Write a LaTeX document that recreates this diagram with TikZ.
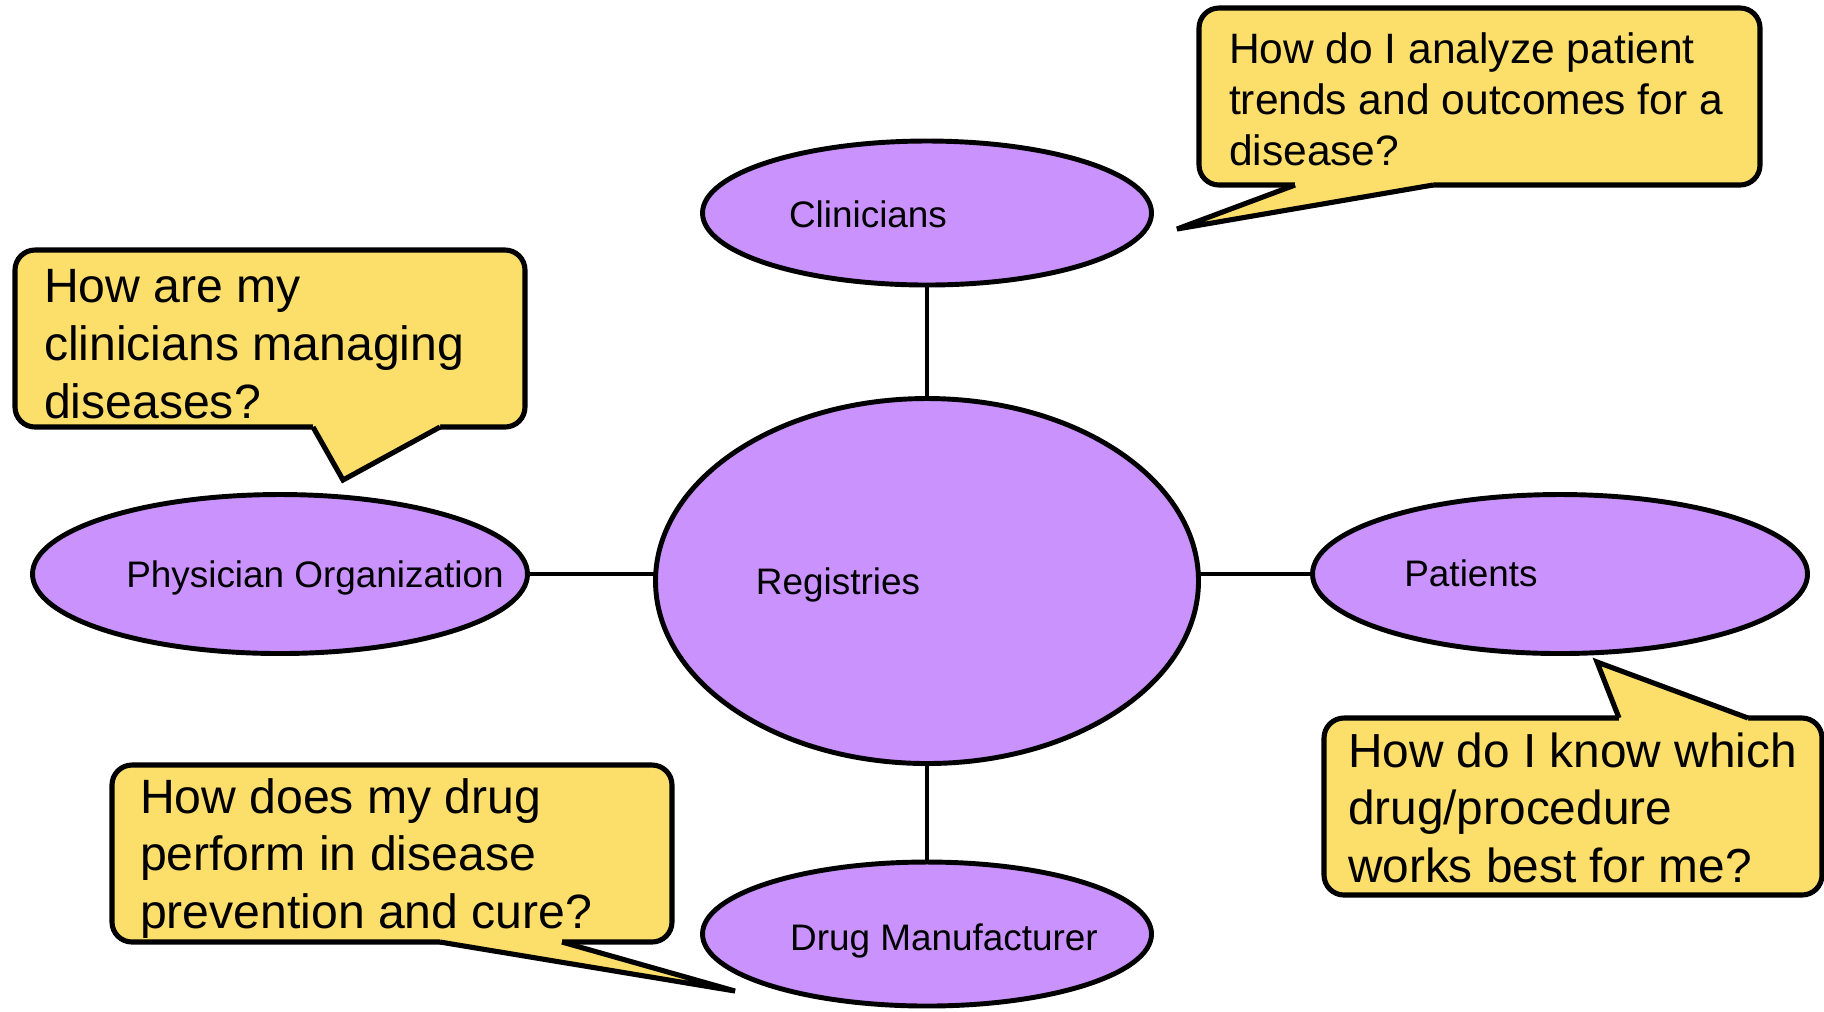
\documentclass[tikz,border=0pt]{standalone}
\usepackage{fontspec}
\setmainfont{Liberation Sans}
\usepackage{tikz}
\usetikzlibrary{shapes.geometric, positioning, calc}
\definecolor{rolepurple}{RGB}{201,146,252}
\definecolor{askyellow}{RGB}{252,222,106}

\tikzset{
  role/.style={ellipse, draw, line width=1.4pt, fill=rolepurple, inner sep=0pt, outer sep=0pt},
  rolename/.style={font=\fontsize{10.5}{12.6}\selectfont, inner sep=0pt, text height=7.6pt, text depth=0pt},
  ask/.style={rectangle, rounded corners=2mm, draw, line width=1.45pt, fill=askyellow,
    align=flush left, inner ysep=0pt, outer sep=0pt, minimum height=17.7mm, anchor=north west,
    font=\fontsize{13.7}{16.4}\selectfont, execute at begin node={\rule{0pt}{#1}}},
  ask/.default=12.7pt,
  tail/.style={line width=1.45pt},
  link/.style={line width=1.2pt}
}

% pointer of a question box: base b1, base b2 (box inside on the left of b1->b2), tip
\newcommand{\asktail}[3]{%
  \fill[askyellow] ($(#1)!0.45mm!90:(#2)$) -- (#1) -- (#3) -- (#2) -- ($(#2)!0.45mm!-90:(#1)$) -- cycle;
  \draw[tail] (#1) -- (#3) -- (#2);}

\begin{document}
\begin{tikzpicture}[x=0.1mm, y=-0.1mm]
\useasboundingbox (0,0) rectangle (1824,1011);

% parties
\node[role, minimum width=54.3mm, minimum height=36.5mm] (reg) at (927,581) {};
\node[role, minimum width=44.9mm, minimum height=14.4mm] (cli) at (927,213) {};
\node[role, minimum width=44.9mm, minimum height=14.4mm] (drug) at (927,934) {};
\node[role, minimum width=49.5mm, minimum height=15.9mm] (po) at (280,574) {};
\node[role, minimum width=49.5mm, minimum height=15.9mm] (pat) at (1560,574) {};

\node[rolename, xshift=-8.9mm] (reg-text) at (reg) {Registries};
\node[rolename, xshift=-5.9mm, yshift=-0.1mm] (cli-text) at (cli) {Clinicians};
\node[rolename, xshift=1.7mm, yshift=-0.3mm] (drug-text) at (drug) {Drug Manufacturer};
\node[rolename, xshift=3.5mm] (po-text) at (po) {Physician Organization};
\node[rolename, xshift=-8.9mm, yshift=0.1mm] (pat-text) at (pat) {Patients};

% spokes
\draw[link] (cli.south) -- (reg.north);
\draw[link] (reg.south) -- (drug.north);
\draw[link] (po.east) -- (po.east -| reg.west);
\draw[link] (pat.west) -- (pat.west -| reg.east);

% questions
\node[ask=10.2pt, text width=50.1mm, inner xsep=3mm, font=\fontsize{12.1}{14.5}\selectfont] (q-cli) at (1199,8)
  {How do I analyze patient\\trends and outcomes for a\\disease?};
\node[ask, text width=45.2mm, inner xsep=2.9mm] (q-po) at (15,250)
  {How are my\\clinicians managing\\diseases?};
\node[ask=10.6pt, text width=45mm, inner xsep=2.4mm, font=\fontsize{13.6}{16.4}\selectfont] (q-pat) at (1324,718)
  {How do I know which\\drug/procedure\\works best for me?};
\node[ask, text width=50.4mm, inner xsep=2.8mm] (q-drug) at (112,765)
  {How does my drug\\perform in disease\\prevention and cure?};

\coordinate (cli-b1) at ([xshift=9.6mm]q-cli.south west);
\coordinate (cli-b2) at ([xshift=23.4mm]q-cli.south west);
\coordinate (cli-tip) at (1177,229);
\asktail{cli-b1}{cli-b2}{cli-tip}

\coordinate (po-b1) at ([xshift=29.8mm]q-po.south west);
\coordinate (po-b2) at ([xshift=42.5mm]q-po.south west);
\coordinate (po-tip) at (343,480);
\asktail{po-b1}{po-b2}{po-tip}

\coordinate (pat-b1) at ([xshift=42.4mm]q-pat.north west);
\coordinate (pat-b2) at ([xshift=29.5mm]q-pat.north west);
\coordinate (pat-tip) at (1597,662);
\asktail{pat-b1}{pat-b2}{pat-tip}

\coordinate (drug-b1) at ([xshift=32.8mm]q-drug.south west);
\coordinate (drug-b2) at ([xshift=45mm]q-drug.south west);
\coordinate (drug-tip) at (735,991);
\asktail{drug-b1}{drug-b2}{drug-tip}
\end{tikzpicture}
\end{document}
